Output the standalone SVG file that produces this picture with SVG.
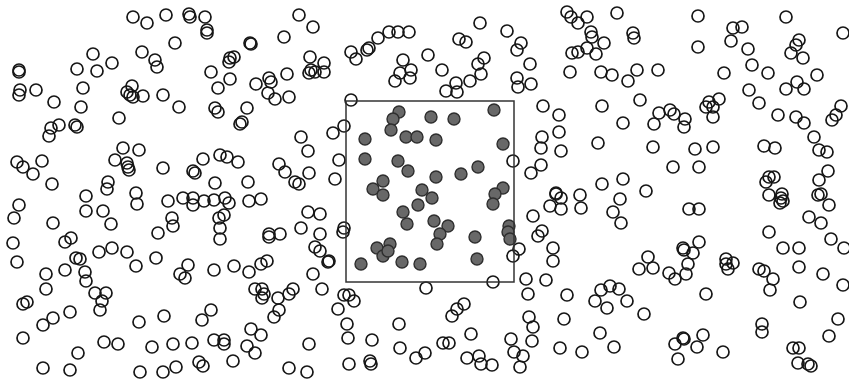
<svg xmlns="http://www.w3.org/2000/svg" width="849" height="383" viewBox="0 0 849 383">
<style>
.o{fill:none;stroke:#161616;stroke-width:1.7}
.f{fill:#686868;stroke:#2e2e2e;stroke-width:1.4}
.box{fill:none;stroke:#333;stroke-width:1.5}
</style>
<rect width="849" height="383" fill="#fff"/>
<g id="open">
<circle class="o" cx="133" cy="17" r="6"/><circle class="o" cx="147" cy="23" r="6"/><circle class="o" cx="166" cy="15" r="6"/><circle class="o" cx="189" cy="14" r="6"/><circle class="o" cx="190" cy="17" r="6"/><circle class="o" cx="205" cy="17" r="6"/><circle class="o" cx="207" cy="30" r="6"/><circle class="o" cx="207" cy="33" r="6"/><circle class="o" cx="175" cy="43" r="6"/><circle class="o" cx="142" cy="52" r="6"/><circle class="o" cx="155" cy="60" r="6"/><circle class="o" cx="157" cy="67" r="6"/><circle class="o" cx="93" cy="54" r="6"/><circle class="o" cx="112" cy="63" r="6"/><circle class="o" cx="77" cy="69" r="6"/><circle class="o" cx="97" cy="71" r="6"/><circle class="o" cx="19" cy="70" r="6"/><circle class="o" cx="19" cy="72" r="6"/><circle class="o" cx="20" cy="90" r="6"/><circle class="o" cx="19" cy="95" r="6"/><circle class="o" cx="36" cy="90" r="6"/><circle class="o" cx="83" cy="88" r="6"/><circle class="o" cx="54" cy="102" r="6"/><circle class="o" cx="81" cy="107" r="6"/><circle class="o" cx="132" cy="86" r="6"/><circle class="o" cx="127" cy="92" r="6"/><circle class="o" cx="130" cy="95" r="6"/><circle class="o" cx="133" cy="97" r="6"/><circle class="o" cx="143" cy="96" r="6"/><circle class="o" cx="163" cy="95" r="6"/><circle class="o" cx="179" cy="107" r="6"/><circle class="o" cx="211" cy="72" r="6"/><circle class="o" cx="119" cy="118" r="6"/><circle class="o" cx="59" cy="125" r="6"/><circle class="o" cx="51" cy="128" r="6"/><circle class="o" cx="49" cy="136" r="6"/><circle class="o" cx="75" cy="125" r="6"/><circle class="o" cx="77" cy="127" r="6"/><circle class="o" cx="123" cy="148" r="6"/><circle class="o" cx="139" cy="150" r="6"/><circle class="o" cx="115" cy="160" r="6"/><circle class="o" cx="127" cy="163" r="6"/><circle class="o" cx="128" cy="167" r="6"/><circle class="o" cx="129" cy="170" r="6"/><circle class="o" cx="17" cy="162" r="6"/><circle class="o" cx="23" cy="167" r="6"/><circle class="o" cx="33" cy="174" r="6"/><circle class="o" cx="42" cy="161" r="6"/><circle class="o" cx="163" cy="168" r="6"/><circle class="o" cx="193" cy="171" r="6"/><circle class="o" cx="195" cy="173" r="6"/><circle class="o" cx="203" cy="159" r="6"/><circle class="o" cx="52" cy="184" r="6"/><circle class="o" cx="108" cy="182" r="6"/><circle class="o" cx="107" cy="189" r="6"/><circle class="o" cx="136" cy="193" r="6"/>
<circle class="o" cx="299" cy="15" r="6"/><circle class="o" cx="313" cy="27" r="6"/><circle class="o" cx="284" cy="37" r="6"/><circle class="o" cx="250" cy="43" r="6"/><circle class="o" cx="251" cy="44" r="6"/><circle class="o" cx="230" cy="58" r="6"/><circle class="o" cx="234" cy="57" r="6"/><circle class="o" cx="229" cy="62" r="6"/><circle class="o" cx="230" cy="79" r="6"/><circle class="o" cx="218" cy="88" r="6"/><circle class="o" cx="215" cy="108" r="6"/><circle class="o" cx="218" cy="112" r="6"/><circle class="o" cx="256" cy="84" r="6"/><circle class="o" cx="269" cy="78" r="6"/><circle class="o" cx="271" cy="82" r="6"/><circle class="o" cx="268" cy="93" r="6"/><circle class="o" cx="275" cy="99" r="6"/><circle class="o" cx="287" cy="74" r="6"/><circle class="o" cx="289" cy="97" r="6"/><circle class="o" cx="247" cy="108" r="6"/><circle class="o" cx="242" cy="122" r="6"/><circle class="o" cx="240" cy="124" r="6"/><circle class="o" cx="310" cy="57" r="6"/><circle class="o" cx="324" cy="63" r="6"/><circle class="o" cx="324" cy="72" r="6"/><circle class="o" cx="311" cy="70" r="6"/><circle class="o" cx="309" cy="73" r="6"/><circle class="o" cx="315" cy="72" r="6"/><circle class="o" cx="351" cy="52" r="6"/><circle class="o" cx="356" cy="59" r="6"/><circle class="o" cx="367" cy="50" r="6"/><circle class="o" cx="369" cy="48" r="6"/><circle class="o" cx="378" cy="38" r="6"/><circle class="o" cx="389" cy="32" r="6"/><circle class="o" cx="398" cy="32" r="6"/><circle class="o" cx="409" cy="32" r="6"/><circle class="o" cx="403" cy="60" r="6"/><circle class="o" cx="411" cy="70" r="6"/><circle class="o" cx="410" cy="78" r="6"/><circle class="o" cx="400" cy="73" r="6"/><circle class="o" cx="395" cy="81" r="6"/><circle class="o" cx="428" cy="55" r="6"/><circle class="o" cx="351" cy="100" r="6"/><circle class="o" cx="344" cy="126" r="6"/><circle class="o" cx="333" cy="133" r="6"/><circle class="o" cx="301" cy="137" r="6"/><circle class="o" cx="308" cy="151" r="6"/><circle class="o" cx="339" cy="160" r="6"/><circle class="o" cx="279" cy="164" r="6"/><circle class="o" cx="285" cy="172" r="6"/><circle class="o" cx="309" cy="173" r="6"/><circle class="o" cx="295" cy="182" r="6"/><circle class="o" cx="299" cy="184" r="6"/><circle class="o" cx="335" cy="179" r="6"/><circle class="o" cx="248" cy="182" r="6"/><circle class="o" cx="220" cy="155" r="6"/><circle class="o" cx="227" cy="157" r="6"/><circle class="o" cx="238" cy="162" r="6"/><circle class="o" cx="215" cy="183" r="6"/>
<circle class="o" cx="480" cy="23" r="6"/><circle class="o" cx="507" cy="31" r="6"/><circle class="o" cx="459" cy="39" r="6"/><circle class="o" cx="466" cy="42" r="6"/><circle class="o" cx="442" cy="70" r="6"/><circle class="o" cx="484" cy="58" r="6"/><circle class="o" cx="478" cy="64" r="6"/><circle class="o" cx="481" cy="74" r="6"/><circle class="o" cx="470" cy="81" r="6"/><circle class="o" cx="456" cy="83" r="6"/><circle class="o" cx="457" cy="92" r="6"/><circle class="o" cx="446" cy="91" r="6"/><circle class="o" cx="521" cy="43" r="6"/><circle class="o" cx="517" cy="50" r="6"/><circle class="o" cx="530" cy="64" r="6"/><circle class="o" cx="517" cy="78" r="6"/><circle class="o" cx="518" cy="87" r="6"/><circle class="o" cx="531" cy="84" r="6"/><circle class="o" cx="567" cy="12" r="6"/><circle class="o" cx="571" cy="17" r="6"/><circle class="o" cx="578" cy="23" r="6"/><circle class="o" cx="587" cy="17" r="6"/><circle class="o" cx="591" cy="32" r="6"/><circle class="o" cx="592" cy="37" r="6"/><circle class="o" cx="604" cy="43" r="6"/><circle class="o" cx="587" cy="48" r="6"/><circle class="o" cx="596" cy="54" r="6"/><circle class="o" cx="572" cy="53" r="6"/><circle class="o" cx="578" cy="52" r="6"/><circle class="o" cx="570" cy="72" r="6"/><circle class="o" cx="601" cy="72" r="6"/><circle class="o" cx="612" cy="75" r="6"/><circle class="o" cx="617" cy="13" r="6"/><circle class="o" cx="633" cy="33" r="6"/><circle class="o" cx="634" cy="38" r="6"/><circle class="o" cx="628" cy="81" r="6"/><circle class="o" cx="637" cy="70" r="6"/><circle class="o" cx="543" cy="106" r="6"/><circle class="o" cx="559" cy="115" r="6"/><circle class="o" cx="559" cy="132" r="6"/><circle class="o" cx="542" cy="137" r="6"/><circle class="o" cx="541" cy="148" r="6"/><circle class="o" cx="561" cy="151" r="6"/><circle class="o" cx="602" cy="106" r="6"/><circle class="o" cx="623" cy="123" r="6"/><circle class="o" cx="598" cy="143" r="6"/><circle class="o" cx="513" cy="161" r="6"/><circle class="o" cx="541" cy="165" r="6"/><circle class="o" cx="531" cy="173" r="6"/><circle class="o" cx="556" cy="193" r="6"/><circle class="o" cx="580" cy="195" r="6"/><circle class="o" cx="602" cy="184" r="6"/><circle class="o" cx="623" cy="179" r="6"/><circle class="o" cx="640" cy="100" r="6"/>
<circle class="o" cx="698" cy="16" r="6"/><circle class="o" cx="698" cy="47" r="6"/><circle class="o" cx="733" cy="28" r="6"/><circle class="o" cx="742" cy="27" r="6"/><circle class="o" cx="731" cy="41" r="6"/><circle class="o" cx="748" cy="49" r="6"/><circle class="o" cx="752" cy="65" r="6"/><circle class="o" cx="768" cy="73" r="6"/><circle class="o" cx="724" cy="73" r="6"/><circle class="o" cx="786" cy="17" r="6"/><circle class="o" cx="799" cy="40" r="6"/><circle class="o" cx="796" cy="45" r="6"/><circle class="o" cx="791" cy="53" r="6"/><circle class="o" cx="803" cy="58" r="6"/><circle class="o" cx="843" cy="33" r="6"/><circle class="o" cx="817" cy="75" r="6"/><circle class="o" cx="786" cy="89" r="6"/><circle class="o" cx="797" cy="82" r="6"/><circle class="o" cx="804" cy="89" r="6"/><circle class="o" cx="749" cy="90" r="6"/><circle class="o" cx="759" cy="103" r="6"/><circle class="o" cx="778" cy="115" r="6"/><circle class="o" cx="796" cy="117" r="6"/><circle class="o" cx="804" cy="123" r="6"/><circle class="o" cx="841" cy="106" r="6"/><circle class="o" cx="836" cy="115" r="6"/><circle class="o" cx="832" cy="120" r="6"/><circle class="o" cx="814" cy="137" r="6"/><circle class="o" cx="819" cy="150" r="6"/><circle class="o" cx="827" cy="152" r="6"/><circle class="o" cx="828" cy="171" r="6"/><circle class="o" cx="819" cy="180" r="6"/><circle class="o" cx="764" cy="146" r="6"/><circle class="o" cx="775" cy="148" r="6"/><circle class="o" cx="769" cy="177" r="6"/><circle class="o" cx="766" cy="182" r="6"/><circle class="o" cx="774" cy="177" r="6"/><circle class="o" cx="782" cy="194" r="6"/><circle class="o" cx="658" cy="70" r="6"/><circle class="o" cx="659" cy="113" r="6"/><circle class="o" cx="654" cy="124" r="6"/><circle class="o" cx="670" cy="110" r="6"/><circle class="o" cx="674" cy="114" r="6"/><circle class="o" cx="685" cy="119" r="6"/><circle class="o" cx="684" cy="127" r="6"/><circle class="o" cx="709" cy="102" r="6"/><circle class="o" cx="706" cy="107" r="6"/><circle class="o" cx="713" cy="107" r="6"/><circle class="o" cx="719" cy="99" r="6"/><circle class="o" cx="713" cy="117" r="6"/><circle class="o" cx="653" cy="147" r="6"/><circle class="o" cx="695" cy="149" r="6"/><circle class="o" cx="713" cy="147" r="6"/><circle class="o" cx="673" cy="167" r="6"/><circle class="o" cx="699" cy="167" r="6"/><circle class="o" cx="646" cy="191" r="6"/>
<circle class="o" cx="19" cy="205" r="6"/><circle class="o" cx="14" cy="218" r="6"/><circle class="o" cx="53" cy="223" r="6"/><circle class="o" cx="13" cy="243" r="6"/><circle class="o" cx="17" cy="262" r="6"/><circle class="o" cx="86" cy="196" r="6"/><circle class="o" cx="86" cy="211" r="6"/><circle class="o" cx="103" cy="211" r="6"/><circle class="o" cx="111" cy="224" r="6"/><circle class="o" cx="137" cy="204" r="6"/><circle class="o" cx="168" cy="201" r="6"/><circle class="o" cx="183" cy="198" r="6"/><circle class="o" cx="193" cy="198" r="6"/><circle class="o" cx="193" cy="205" r="6"/><circle class="o" cx="204" cy="201" r="6"/><circle class="o" cx="214" cy="200" r="6"/><circle class="o" cx="172" cy="218" r="6"/><circle class="o" cx="173" cy="226" r="6"/><circle class="o" cx="158" cy="233" r="6"/><circle class="o" cx="65" cy="242" r="6"/><circle class="o" cx="71" cy="238" r="6"/><circle class="o" cx="76" cy="258" r="6"/><circle class="o" cx="80" cy="259" r="6"/><circle class="o" cx="99" cy="252" r="6"/><circle class="o" cx="112" cy="248" r="6"/><circle class="o" cx="127" cy="252" r="6"/><circle class="o" cx="136" cy="266" r="6"/><circle class="o" cx="156" cy="258" r="6"/><circle class="o" cx="65" cy="270" r="6"/><circle class="o" cx="85" cy="272" r="6"/><circle class="o" cx="86" cy="281" r="6"/><circle class="o" cx="46" cy="274" r="6"/><circle class="o" cx="46" cy="289" r="6"/><circle class="o" cx="95" cy="293" r="6"/><circle class="o" cx="106" cy="293" r="6"/><circle class="o" cx="102" cy="301" r="6"/><circle class="o" cx="100" cy="310" r="6"/><circle class="o" cx="188" cy="265" r="6"/><circle class="o" cx="180" cy="274" r="6"/><circle class="o" cx="185" cy="278" r="6"/><circle class="o" cx="214" cy="270" r="6"/><circle class="o" cx="27" cy="302" r="6"/><circle class="o" cx="23" cy="304" r="6"/><circle class="o" cx="70" cy="312" r="6"/><circle class="o" cx="53" cy="318" r="6"/><circle class="o" cx="43" cy="325" r="6"/><circle class="o" cx="139" cy="322" r="6"/><circle class="o" cx="164" cy="316" r="6"/><circle class="o" cx="202" cy="320" r="6"/><circle class="o" cx="211" cy="310" r="6"/><circle class="o" cx="23" cy="338" r="6"/><circle class="o" cx="104" cy="342" r="6"/><circle class="o" cx="118" cy="344" r="6"/><circle class="o" cx="152" cy="347" r="6"/><circle class="o" cx="173" cy="344" r="6"/><circle class="o" cx="192" cy="343" r="6"/><circle class="o" cx="214" cy="340" r="6"/><circle class="o" cx="78" cy="353" r="6"/><circle class="o" cx="43" cy="368" r="6"/><circle class="o" cx="70" cy="370" r="6"/><circle class="o" cx="140" cy="372" r="6"/><circle class="o" cx="163" cy="372" r="6"/><circle class="o" cx="176" cy="367" r="6"/><circle class="o" cx="199" cy="362" r="6"/><circle class="o" cx="203" cy="366" r="6"/>
<circle class="o" cx="225" cy="198" r="6"/><circle class="o" cx="229" cy="203" r="6"/><circle class="o" cx="224" cy="215" r="6"/><circle class="o" cx="219" cy="218" r="6"/><circle class="o" cx="220" cy="228" r="6"/><circle class="o" cx="220" cy="239" r="6"/><circle class="o" cx="249" cy="201" r="6"/><circle class="o" cx="261" cy="199" r="6"/><circle class="o" cx="308" cy="212" r="6"/><circle class="o" cx="320" cy="214" r="6"/><circle class="o" cx="301" cy="228" r="6"/><circle class="o" cx="320" cy="234" r="6"/><circle class="o" cx="344" cy="228" r="6"/><circle class="o" cx="343" cy="232" r="6"/><circle class="o" cx="269" cy="234" r="6"/><circle class="o" cx="269" cy="237" r="6"/><circle class="o" cx="280" cy="234" r="6"/><circle class="o" cx="315" cy="247" r="6"/><circle class="o" cx="320" cy="251" r="6"/><circle class="o" cx="329" cy="261" r="6"/><circle class="o" cx="328" cy="262" r="6"/><circle class="o" cx="234" cy="266" r="6"/><circle class="o" cx="249" cy="272" r="6"/><circle class="o" cx="261" cy="264" r="6"/><circle class="o" cx="267" cy="261" r="6"/><circle class="o" cx="313" cy="274" r="6"/><circle class="o" cx="322" cy="289" r="6"/><circle class="o" cx="255" cy="289" r="6"/><circle class="o" cx="262" cy="289" r="6"/><circle class="o" cx="262" cy="298" r="6"/><circle class="o" cx="264" cy="294" r="6"/><circle class="o" cx="278" cy="298" r="6"/><circle class="o" cx="289" cy="294" r="6"/><circle class="o" cx="293" cy="289" r="6"/><circle class="o" cx="279" cy="310" r="6"/><circle class="o" cx="274" cy="317" r="6"/><circle class="o" cx="344" cy="295" r="6"/><circle class="o" cx="349" cy="295" r="6"/><circle class="o" cx="354" cy="301" r="6"/><circle class="o" cx="338" cy="309" r="6"/><circle class="o" cx="347" cy="324" r="6"/><circle class="o" cx="348" cy="338" r="6"/><circle class="o" cx="372" cy="340" r="6"/><circle class="o" cx="370" cy="361" r="6"/><circle class="o" cx="371" cy="364" r="6"/><circle class="o" cx="349" cy="364" r="6"/><circle class="o" cx="309" cy="344" r="6"/><circle class="o" cx="251" cy="329" r="6"/><circle class="o" cx="261" cy="335" r="6"/><circle class="o" cx="247" cy="346" r="6"/><circle class="o" cx="255" cy="353" r="6"/><circle class="o" cx="224" cy="340" r="6"/><circle class="o" cx="224" cy="344" r="6"/><circle class="o" cx="233" cy="361" r="6"/><circle class="o" cx="289" cy="368" r="6"/><circle class="o" cx="307" cy="372" r="6"/><circle class="o" cx="399" cy="324" r="6"/><circle class="o" cx="400" cy="348" r="6"/><circle class="o" cx="416" cy="358" r="6"/><circle class="o" cx="425" cy="353" r="6"/><circle class="o" cx="426" cy="288" r="6"/>
<circle class="o" cx="519" cy="249" r="6"/><circle class="o" cx="513" cy="256" r="6"/><circle class="o" cx="493" cy="282" r="6"/><circle class="o" cx="556" cy="194" r="6"/><circle class="o" cx="561" cy="198" r="6"/><circle class="o" cx="550" cy="206" r="6"/><circle class="o" cx="561" cy="209" r="6"/><circle class="o" cx="581" cy="208" r="6"/><circle class="o" cx="620" cy="199" r="6"/><circle class="o" cx="613" cy="212" r="6"/><circle class="o" cx="621" cy="223" r="6"/><circle class="o" cx="533" cy="216" r="6"/><circle class="o" cx="542" cy="231" r="6"/><circle class="o" cx="538" cy="236" r="6"/><circle class="o" cx="553" cy="248" r="6"/><circle class="o" cx="553" cy="261" r="6"/><circle class="o" cx="526" cy="279" r="6"/><circle class="o" cx="528" cy="294" r="6"/><circle class="o" cx="546" cy="280" r="6"/><circle class="o" cx="567" cy="295" r="6"/><circle class="o" cx="601" cy="290" r="6"/><circle class="o" cx="595" cy="301" r="6"/><circle class="o" cx="607" cy="308" r="6"/><circle class="o" cx="610" cy="286" r="6"/><circle class="o" cx="619" cy="289" r="6"/><circle class="o" cx="627" cy="301" r="6"/><circle class="o" cx="464" cy="304" r="6"/><circle class="o" cx="457" cy="309" r="6"/><circle class="o" cx="452" cy="316" r="6"/><circle class="o" cx="471" cy="334" r="6"/><circle class="o" cx="443" cy="343" r="6"/><circle class="o" cx="449" cy="343" r="6"/><circle class="o" cx="529" cy="317" r="6"/><circle class="o" cx="533" cy="327" r="6"/><circle class="o" cx="532" cy="341" r="6"/><circle class="o" cx="511" cy="339" r="6"/><circle class="o" cx="514" cy="352" r="6"/><circle class="o" cx="523" cy="356" r="6"/><circle class="o" cx="520" cy="367" r="6"/><circle class="o" cx="564" cy="319" r="6"/><circle class="o" cx="600" cy="333" r="6"/><circle class="o" cx="560" cy="348" r="6"/><circle class="o" cx="582" cy="352" r="6"/><circle class="o" cx="614" cy="347" r="6"/><circle class="o" cx="467" cy="358" r="6"/><circle class="o" cx="479" cy="356" r="6"/><circle class="o" cx="481" cy="364" r="6"/><circle class="o" cx="492" cy="365" r="6"/>
<circle class="o" cx="689" cy="209" r="6"/><circle class="o" cx="699" cy="209" r="6"/><circle class="o" cx="769" cy="195" r="6"/><circle class="o" cx="781" cy="198" r="6"/><circle class="o" cx="783" cy="201" r="6"/><circle class="o" cx="780" cy="203" r="6"/><circle class="o" cx="818" cy="195" r="6"/><circle class="o" cx="821" cy="194" r="6"/><circle class="o" cx="829" cy="205" r="6"/><circle class="o" cx="809" cy="217" r="6"/><circle class="o" cx="821" cy="223" r="6"/><circle class="o" cx="769" cy="232" r="6"/><circle class="o" cx="831" cy="239" r="6"/><circle class="o" cx="844" cy="248" r="6"/><circle class="o" cx="783" cy="248" r="6"/><circle class="o" cx="799" cy="248" r="6"/><circle class="o" cx="799" cy="267" r="6"/><circle class="o" cx="823" cy="274" r="6"/><circle class="o" cx="843" cy="285" r="6"/><circle class="o" cx="699" cy="242" r="6"/><circle class="o" cx="683" cy="248" r="6"/><circle class="o" cx="684" cy="250" r="6"/><circle class="o" cx="693" cy="253" r="6"/><circle class="o" cx="648" cy="257" r="6"/><circle class="o" cx="639" cy="269" r="6"/><circle class="o" cx="653" cy="268" r="6"/><circle class="o" cx="669" cy="273" r="6"/><circle class="o" cx="675" cy="279" r="6"/><circle class="o" cx="686" cy="274" r="6"/><circle class="o" cx="688" cy="264" r="6"/><circle class="o" cx="726" cy="259" r="6"/><circle class="o" cx="733" cy="263" r="6"/><circle class="o" cx="728" cy="269" r="6"/><circle class="o" cx="726" cy="264" r="6"/><circle class="o" cx="759" cy="269" r="6"/><circle class="o" cx="764" cy="271" r="6"/><circle class="o" cx="773" cy="279" r="6"/><circle class="o" cx="770" cy="290" r="6"/><circle class="o" cx="706" cy="294" r="6"/><circle class="o" cx="644" cy="314" r="6"/><circle class="o" cx="800" cy="302" r="6"/><circle class="o" cx="762" cy="324" r="6"/><circle class="o" cx="762" cy="332" r="6"/><circle class="o" cx="838" cy="319" r="6"/><circle class="o" cx="829" cy="336" r="6"/><circle class="o" cx="675" cy="344" r="6"/><circle class="o" cx="683" cy="338" r="6"/><circle class="o" cx="684" cy="339" r="6"/><circle class="o" cx="678" cy="359" r="6"/><circle class="o" cx="697" cy="347" r="6"/><circle class="o" cx="703" cy="335" r="6"/><circle class="o" cx="723" cy="352" r="6"/><circle class="o" cx="793" cy="348" r="6"/><circle class="o" cx="799" cy="348" r="6"/><circle class="o" cx="798" cy="363" r="6"/><circle class="o" cx="808" cy="364" r="6"/><circle class="o" cx="811" cy="366" r="6"/>
</g>
<g id="filled">
<circle class="f" cx="399" cy="112" r="6"/><circle class="f" cx="393" cy="119" r="6"/><circle class="f" cx="391" cy="130" r="6"/><circle class="f" cx="406" cy="137" r="6"/><circle class="f" cx="417" cy="137" r="6"/><circle class="f" cx="365" cy="139" r="6"/><circle class="f" cx="365" cy="159" r="6"/><circle class="f" cx="398" cy="161" r="6"/><circle class="f" cx="408" cy="171" r="6"/><circle class="f" cx="383" cy="181" r="6"/><circle class="f" cx="373" cy="189" r="6"/><circle class="f" cx="422" cy="190" r="6"/><circle class="f" cx="431" cy="117" r="6"/><circle class="f" cx="454" cy="119" r="6"/><circle class="f" cx="494" cy="110" r="6"/><circle class="f" cx="436" cy="140" r="6"/><circle class="f" cx="503" cy="144" r="6"/><circle class="f" cx="436" cy="177" r="6"/><circle class="f" cx="461" cy="174" r="6"/><circle class="f" cx="478" cy="167" r="6"/><circle class="f" cx="503" cy="188" r="6"/><circle class="f" cx="495" cy="194" r="6"/><circle class="f" cx="493" cy="204" r="6"/><circle class="f" cx="383" cy="195" r="6"/><circle class="f" cx="403" cy="212" r="6"/><circle class="f" cx="407" cy="224" r="6"/><circle class="f" cx="418" cy="205" r="6"/><circle class="f" cx="377" cy="248" r="6"/><circle class="f" cx="383" cy="256" r="6"/><circle class="f" cx="390" cy="244" r="6"/><circle class="f" cx="388" cy="251" r="6"/><circle class="f" cx="361" cy="264" r="6"/><circle class="f" cx="402" cy="262" r="6"/><circle class="f" cx="420" cy="264" r="6"/><circle class="f" cx="432" cy="198" r="6"/><circle class="f" cx="434" cy="221" r="6"/><circle class="f" cx="448" cy="226" r="6"/><circle class="f" cx="440" cy="234" r="6"/><circle class="f" cx="437" cy="244" r="6"/><circle class="f" cx="475" cy="237" r="6"/><circle class="f" cx="477" cy="259" r="6"/><circle class="f" cx="509" cy="226" r="6"/><circle class="f" cx="508" cy="232" r="6"/><circle class="f" cx="510" cy="239" r="6"/>
</g>
<rect class="box" x="346" y="101" width="168" height="181"/>
</svg>
